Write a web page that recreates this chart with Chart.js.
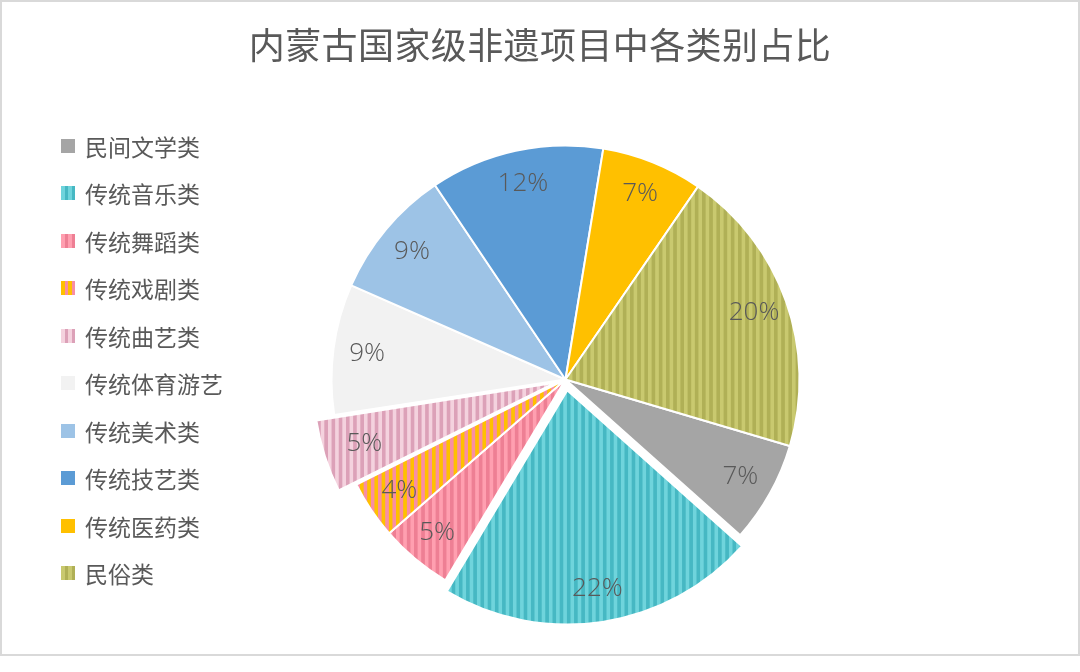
<!DOCTYPE html>
<html>
<head>
<meta charset="utf-8">
<title>内蒙古国家级非遗项目中各类别占比</title>
<script src="https://cdn.jsdelivr.net/npm/chart.js@4.4.0/dist/chart.umd.min.js"></script>
<style>
  html, body { margin: 0; padding: 0; background: #fff; }
  #wrap { position: relative; width: 1080px; height: 672px; }
  #pieChart { position: absolute; left: 0; top: 0; }
  #frame { position: absolute; left: 0; top: 0; width: 1080px; height: 656px; box-sizing: border-box; border: 2px solid #d9d9d9; pointer-events: none; }
  #title { position: absolute; left: 0; top: 21px; width: 1080px; text-align: center; font-family: "Noto Sans CJK SC", sans-serif; font-size: 36px; line-height: 44px; color: #595959; letter-spacing: 0.4px; }
  .item { position: absolute; left: 61px; height: 24px; display: flex; align-items: center; font-family: "Noto Sans CJK SC", sans-serif; font-size: 23px; color: #595959; white-space: nowrap; }
  .box { width: 14px; height: 14px; margin-right: 10px; flex: none; }
</style>
</head>
<body>
<div id="wrap">
  <canvas id="pieChart" width="1080" height="672"></canvas>
  <div id="title">内蒙古国家级非遗项目中各类别占比</div>
  <div id="legend"></div>
  <div id="frame"></div>
</div>
<script>
// categories and their share (%)
var categories = ['民间文学类', '传统音乐类', '传统舞蹈类', '传统戏剧类', '传统曲艺类',
                  '传统体育游艺', '传统美术类', '传统技艺类', '传统医药类', '民俗类'];
var shares = [7, 22, 5, 4, 5, 9, 9, 12, 7, 20];

// fill styles: plain colour, or [light, dark] vertical stripes
var fills = [
    '#a5a5a5',
    ['#6fd4dc', '#46b8c3'],
    ['#ff9fb0', '#ee7f94'],
    ['#ffc000', '#f88ea4'],
    ['#f4d2de', '#dca1b8'],
    '#f2f2f2',
    '#9dc3e6',
    '#5b9bd5',
    '#ffc000',
    ['#c9c96f', '#b0b056']
];
// pulled-out slices, in pixels
var explode = [0, 11, 0, 0, 11, 0, 0, 0, 0, 0];

var ctx = document.getElementById('pieChart').getContext('2d');

function stripes(light, dark) {
    var c = document.createElement('canvas');
    c.width = 8;
    c.height = 8;
    var g = c.getContext('2d');
    g.fillStyle = light;
    g.fillRect(0, 0, 4, 8);
    g.fillStyle = dark;
    g.fillRect(4, 0, 4, 8);
    var p = ctx.createPattern(c, 'repeat');
    p.setTransform(new DOMMatrix([0.9, 0, 0, 1, 0, 0]));
    return p;
}

var colors = fills.map(function (f) {
    return Array.isArray(f) ? stripes(f[0], f[1]) : f;
});

// html legend
var legend = document.getElementById('legend');
categories.forEach(function (name, i) {
    var f = fills[i];
    var bg = Array.isArray(f)
        ? 'repeating-linear-gradient(90deg, ' + f[0] + ' 0 3.6px, ' + f[1] + ' 3.6px 7.2px)'
        : f;
    var item = document.createElement('div');
    item.className = 'item';
    item.style.top = (146 + i * 47.44 - 12) + 'px';
    item.innerHTML = '<span class="box" style="background:' + bg + '"></span>' + name;
    legend.appendChild(item);
});

// percentage labels inside the slices
var pctLabels = {
    id: 'pctLabels',
    afterDatasetsDraw: function (chart) {
        var c = chart.ctx;
        var meta = chart.getDatasetMeta(0);
        c.save();
        c.font = '300 26px "Open Sans", "Noto Sans CJK SC", sans-serif';
        c.fillStyle = '#595959';
        c.textAlign = 'center';
        c.textBaseline = 'middle';
        meta.data.forEach(function (arc, i) {
            var p = arc.getProps(['x', 'y', 'startAngle', 'endAngle', 'outerRadius'], true);
            var mid = (p.startAngle + p.endAngle) / 2;
            var r = explode[i] + p.outerRadius * 0.855;
            c.fillText(shares[i] + '%', p.x + Math.cos(mid) * r, p.y + Math.sin(mid) * r);
        });
        c.restore();
    }
};

var pieChart = new Chart(ctx, {
    type: 'pie',
    data: {
        labels: categories,
        datasets: [{
            data: shares,
            backgroundColor: colors,
            borderColor: '#ffffff',
            borderWidth: 2,
            // chart.js v4 draws arc offset / 4
            offset: explode.map(function (v) { return v * 4; }),
            clip: false
        }]
    },
    options: {
        responsive: false,
        animation: false,
        rotation: 106.5,
        radius: 234,
        layout: {
            padding: { left: 51, right: 0, top: 87, bottom: 0 }
        },
        plugins: {
            legend: { display: false },
            tooltip: { enabled: false },
            title: { display: false }
        }
    },
    plugins: [pctLabels]
});
</script>
</body>
</html>
